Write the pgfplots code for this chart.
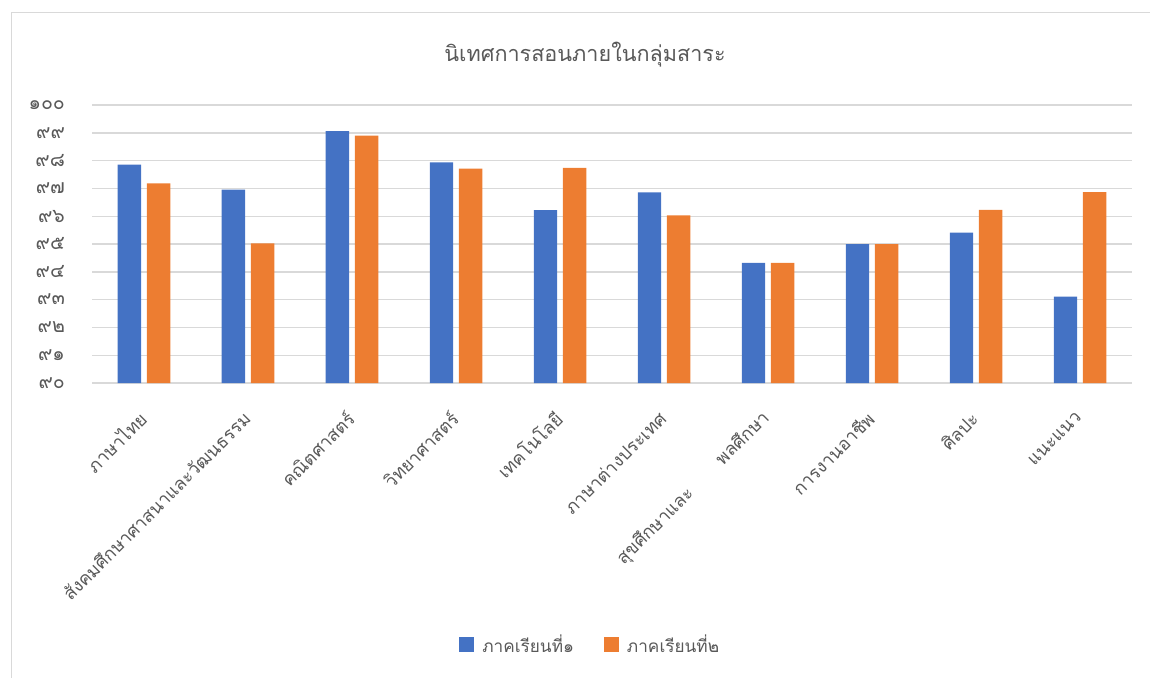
\documentclass[border=0pt]{standalone}
\usepackage{fontspec}
\setmainfont[Script=Thai]{Loma}
\usepackage{pgfplots}
\pgfplotsset{compat=1.18}
\definecolor{sblue}{HTML}{4472C4}
\definecolor{sorange}{HTML}{ED7D31}
\definecolor{gridc}{HTML}{D9D9D9}
\definecolor{txt}{HTML}{595959}
\begin{document}
\begin{tikzpicture}
\useasboundingbox (0,0) rectangle (575pt,338.5pt);
\clip (0,0) rectangle (575pt,338.5pt);
\draw[gridc, line width=0.6pt] (5.75pt,-20pt) rectangle (600pt,332.25pt);
\node[text=txt, font=\fontsize{10.8}{12}\selectfont] at (292.5pt,311pt) {นิเทศการสอนภายในกลุ่มสาระ};
\begin{axis}[
  at={(46pt,147pt)}, anchor=south west,
  scale only axis, width=520pt, height=139pt,
  xmin=-0.5, xmax=9.5, ymin=90, ymax=100,
  axis line style={draw=none},
  major tick length=0pt,
  ytick={90,91,92,93,94,95,96,97,98,99,100},
  yticklabels={๙๐,๙๑,๙๒,๙๓,๙๔,๙๕,๙๖,๙๗,๙๘,๙๙,๑๐๐},
  ymajorgrids, grid style={gridc, line width=0.7pt},
  xtick={0,1,2,3,4,5,6,7,8,9},
  xticklabels={ภาษาไทย,สังคมศึกษาศาสนาและวัฒนธรรม,คณิตศาสตร์,วิทยาศาสตร์,เทคโนโลยี,ภาษาต่างประเทศ,สุขศึกษาและ\hspace{20pt}พลศึกษา,การงานอาชีพ,ศิลปะ,แนะแนว},
  yticklabel style={font=\fontsize{9.8}{10}\selectfont, text=txt, anchor=east, xshift=-10pt},
  xticklabel style={font=\fontsize{9}{10}\selectfont, text=txt, inner sep=0pt, xshift=-0.5pt, yshift=-16pt, rotate=45, anchor=east},
  ybar, bar width=0.225,
  legend style={at={(0.48,-0.942)}, anchor=center, legend columns=2, draw=none, fill=none,
    font=\fontsize{8.6}{9}\selectfont, text=txt,
    /tikz/every odd column/.append style={column sep=2pt},
    /tikz/every even column/.append style={column sep=13pt}},
]
\addplot[fill=sblue, draw=none, bar shift=-0.14,
  legend image code/.code={\fill[sblue] (0pt,-3.75pt) rectangle (7.5pt,3.75pt);}]
  coordinates {(0,97.86) (1,96.96) (2,99.06) (3,97.94) (4,96.22) (5,96.86) (6,94.32) (7,95.0) (8,95.41) (9,93.11)};
\addplot[fill=sorange, draw=none, bar shift=0.14,
  legend image code/.code={\fill[sorange] (0pt,-3.75pt) rectangle (7.5pt,3.75pt);}]
  coordinates {(0,97.18) (1,95.02) (2,98.9) (3,97.71) (4,97.74) (5,96.03) (6,94.32) (7,95.0) (8,96.23) (9,96.87)};
\legend{ภาคเรียนที่๑,ภาคเรียนที่๒}
\end{axis}
\end{tikzpicture}
\end{document}
